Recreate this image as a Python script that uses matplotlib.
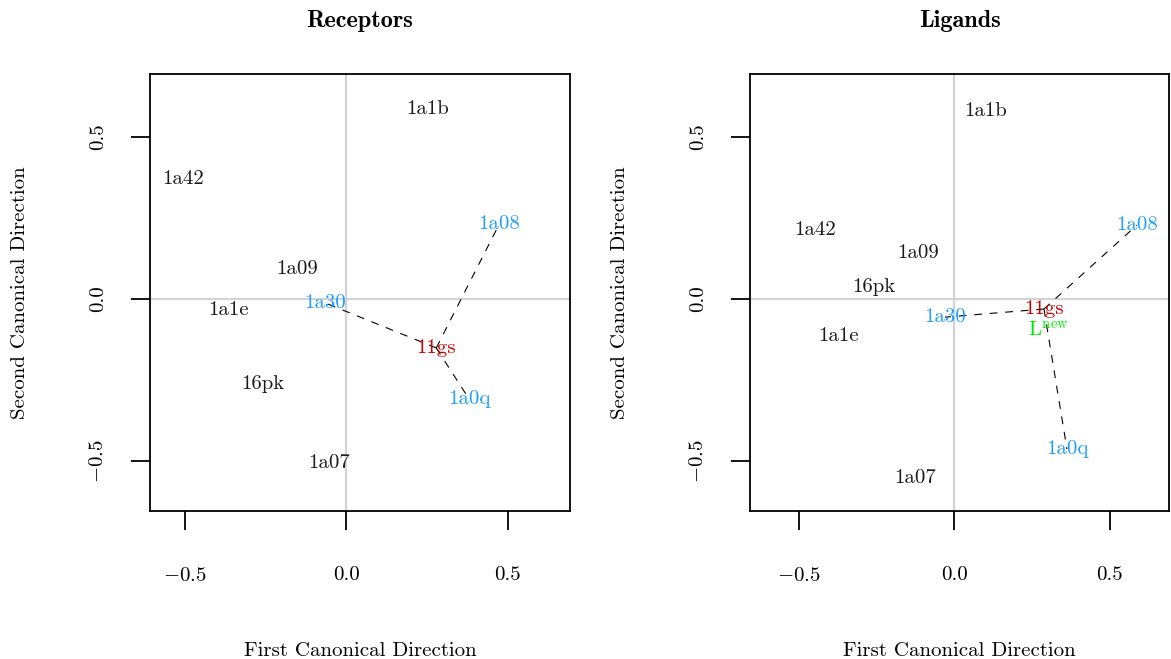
import matplotlib
matplotlib.use("Agg")
import matplotlib.pyplot as plt

plt.rcParams['font.family'] = ['cmr10', 'DejaVu Sans']
plt.rcParams['mathtext.fontset'] = 'cm'
plt.rcParams['axes.formatter.use_mathtext'] = True

# ---- data ----
rec_labels = ["1a1b", "1a42", "1a08", "1a09", "1a30", "1a1e", "11gs", "16pk", "1a0q", "1a07"]
rec_x = [0.251, -0.505, 0.474, -0.152, -0.065, -0.365, 0.279, -0.257, 0.381, -0.053]
rec_y = [0.586, 0.370, 0.231, 0.093, -0.012, -0.034, -0.151, -0.262, -0.309, -0.506]
rec_groups = ["other", "other", "nbr", "other", "nbr", "other", "query", "other", "nbr", "other"]

lig_labels = ["1a1b", "1a08", "1a42", "1a09", "16pk", "11gs", "1a30", "1a1e", "1a0q", "1a07"]
lig_x = [0.100, 0.588, -0.447, -0.116, -0.257, 0.289, -0.029, -0.370, 0.363, -0.125]
lig_y = [0.580, 0.228, 0.213, 0.142, 0.037, -0.031, -0.056, -0.114, -0.463, -0.552]
lig_groups = ["other", "nbr", "other", "other", "other", "query", "nbr", "other", "nbr", "other"]

lnew_label = r"$\mathrm{L}^{\mathrm{new}}$"
lnew_xy = (0.302, -0.096)

ticks = [-0.5, 0.0, 0.5]
tick_labels = [r"$-0.5$", "0.0", "0.5"]

colors = {"other": "#1a1a1a", "nbr": "#1C9FFF", "query": "#CD0000"}

FS = 15
W, H = 1171, 659
fig = plt.figure(figsize=(W / 100, H / 100), dpi=100)


def make_ax(px0, px1, py0, py1, xlim, ylim, title, labels, xs, ys, groups):
    ax = fig.add_axes([px0 / W, 1 - py1 / H, (px1 - px0) / W, (py1 - py0) / H])
    ax.set_xlim(*xlim)
    ax.set_ylim(*ylim)
    ax.axhline(0, color="#d3d3d3", lw=1.6, zorder=0)
    ax.axvline(0, color="#d3d3d3", lw=1.6, zorder=0)
    qi = groups.index("query")
    for i, g in enumerate(groups):
        if g == "nbr":
            ax.plot([xs[qi], xs[i]], [ys[qi], ys[i]], color="black", lw=0.8,
                    dashes=(7, 7), zorder=1)
    for lab, x, y, g in zip(labels, xs, ys, groups):
        ax.text(x, y, lab, color=colors[g], fontsize=FS, ha="center", va="center", zorder=2)
    for s in ax.spines.values():
        s.set_linewidth(1.3)
    ax.set_xticks(ticks)
    ax.set_xticklabels(tick_labels)
    ax.set_yticks(ticks)
    ax.set_yticklabels(tick_labels, rotation=90, va="center")
    ax.tick_params(direction="out", length=14, width=1.3, labelsize=FS)
    ax.tick_params(axis="x", pad=26)
    ax.tick_params(axis="y", pad=17)
    cx = (px0 + px1) / 2 / W
    cy = 1 - (py0 + py1) / 2 / H
    fig.text(cx, 1 - 21 / H, title, fontsize=17.5, fontfamily="cmb10", ha="center", va="center")
    fig.text(cx, 1 - 651 / H, "First Canonical Direction", fontsize=FS, ha="center", va="center")
    fig.text((px0 - 130) / W, cy, "Second Canonical Direction", fontsize=FS,
             ha="center", va="center", rotation=90)
    return ax


make_ax(150, 570, 74, 511, (-0.607, 0.693), (-0.654, 0.694), "Receptors",
        rec_labels, rec_x, rec_y, rec_groups)
ax2 = make_ax(750, 1169, 74, 511, (-0.656, 0.691), (-0.654, 0.694), "Ligands",
              lig_labels, lig_x, lig_y, lig_groups)
ax2.text(lnew_xy[0], lnew_xy[1], lnew_label, color="#00EE00", fontsize=FS,
         ha="center", va="center", zorder=2)

fig.savefig("out.png", dpi=100)
